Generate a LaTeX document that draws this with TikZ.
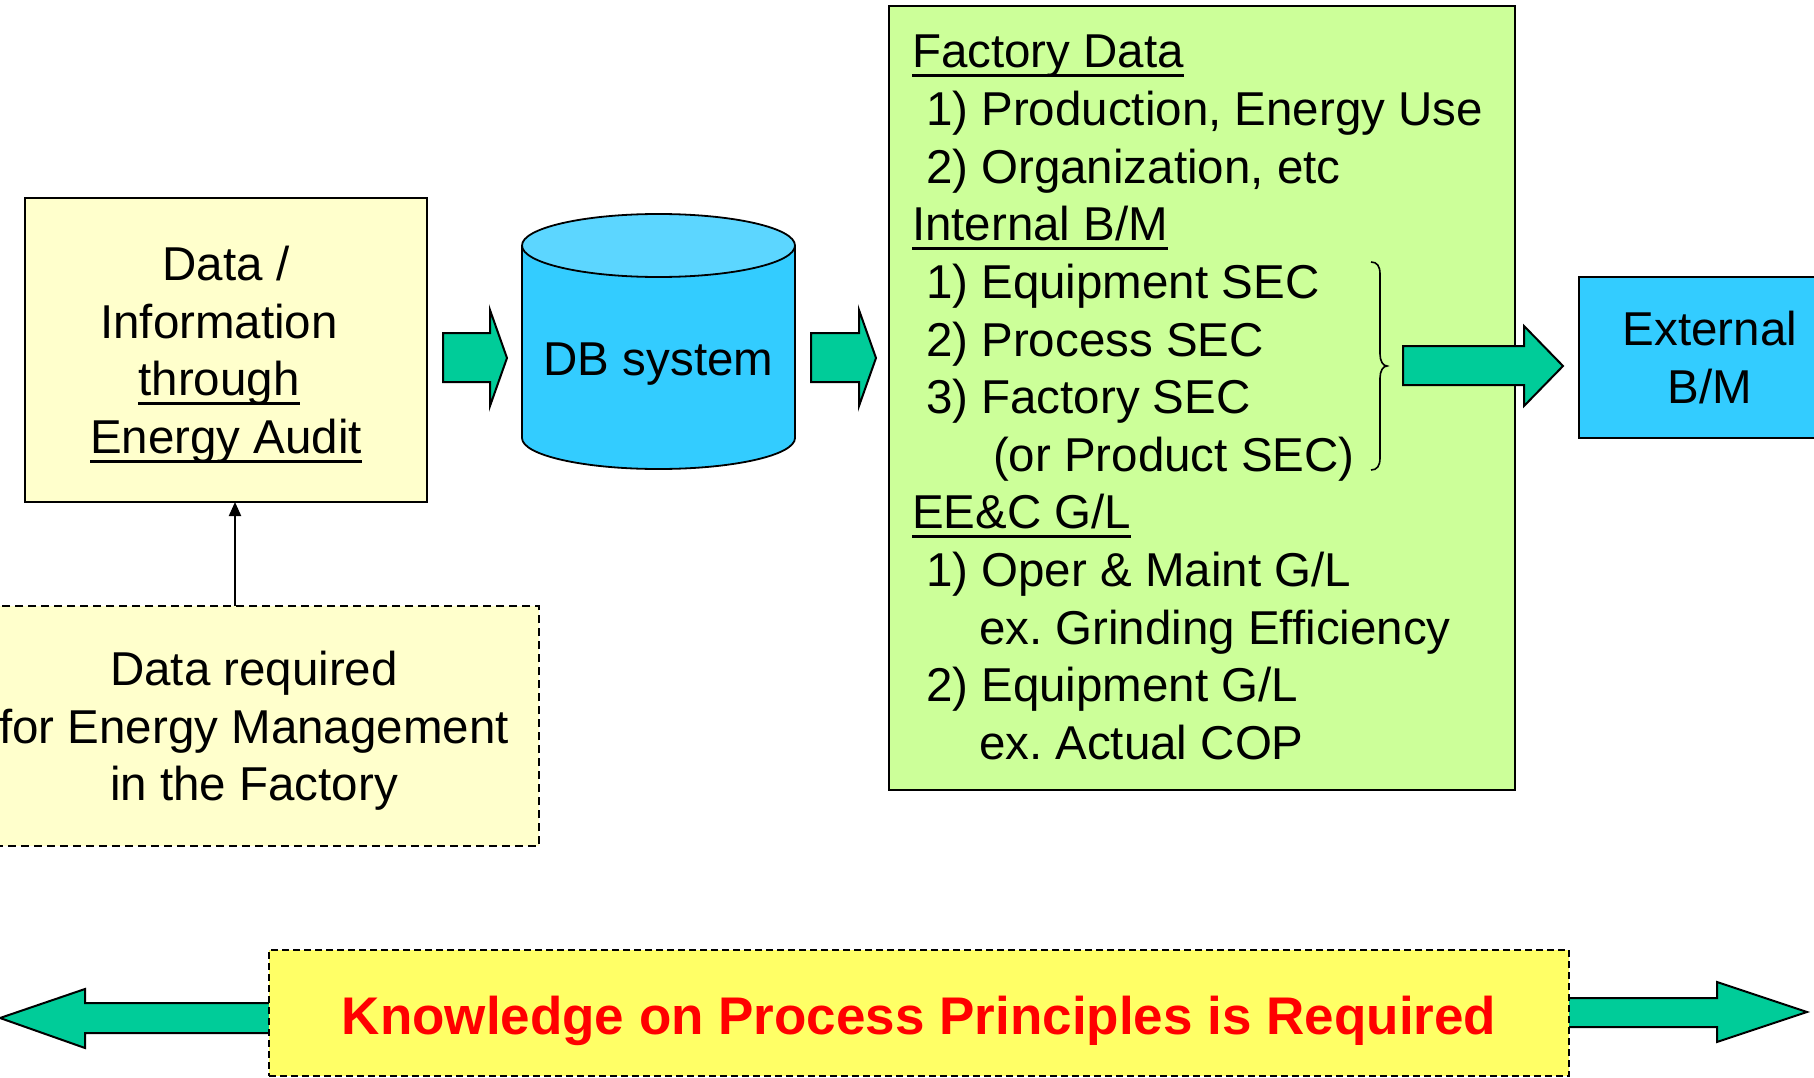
\documentclass[tikz,border=0pt]{standalone}
\usepackage{fontspec}
\setmainfont{Liberation Sans}
\usetikzlibrary{arrows.meta}
\definecolor{boxyellow}{HTML}{FFFFCC}
\definecolor{boxgreen}{HTML}{CCFF99}
\definecolor{cyanbody}{HTML}{33CCFF}
\definecolor{cyantop}{HTML}{5CD6FF}
\definecolor{arrowgreen}{HTML}{00CC99}
\definecolor{kyellow}{HTML}{FFFF66}
\definecolor{kred}{HTML}{FF0000}
\newcommand{\myul}[1]{\setbox0=\hbox{#1}\rlap{\rule[-9pt]{\wd0}{2.6pt}}\box0}
\newcommand{\mystrut}{\rule[-10pt]{0pt}{54pt}}
\newcommand{\padr}{\rule{14pt}{0pt}}
\frenchspacing
\begin{document}
\begin{tikzpicture}[x=1pt,y=-1pt,
  every node/.style={inner sep=0pt, outer sep=0pt},
  plainbox/.style={draw=black, line width=2pt},
  dashbox/.style={draw=black, line width=2pt, dash pattern=on 8pt off 5pt},
  txt/.style={font=\fontsize{47.5pt}{57.8pt}\selectfont, align=center},
  ltxt/.style={font=\fontsize{47.5pt}{57.8pt}\selectfont, anchor=base west},
  blockarrow/.style={draw=black, line width=2pt, fill=arrowgreen, line join=miter},
  cylline/.style={line width=1.8pt},
]
\useasboundingbox (0,0) rectangle (1814,1078);
\fill[white] (0,0) rectangle (1814,1078);
\clip (0,0) rectangle (1814,1078);

% left boxes
\node[plainbox, fill=boxyellow, minimum width=402pt, minimum height=304pt, txt] (audit) at (226,350)
  {\mystrut Data /\\\mystrut Information\padr\\\mystrut\myul{through}\padr\\\mystrut\myul{Energy Audit}};
\node[dashbox, fill=boxyellow, minimum width=570pt, minimum height=240pt, txt] (req) at (254,726)
  {\mystrut Data required\\\mystrut for Energy Management\\\mystrut in the Factory};
\coordinate (ax) at (235,0);
\draw[line width=2pt, -{Triangle[length=14pt,width=12pt]}] (ax |- req.north) -- (ax |- audit.south);

% DB cylinder
\node[minimum width=273pt, minimum height=256pt] (db) at (658.5,342) {};
\fill[cyanbody] (522,245) rectangle (795,438);
\fill[cyanbody] (658.5,438) ellipse [x radius=136.5, y radius=31];
\begin{scope}
  \clip (510,438) rectangle (810,485);
  \draw[cylline] (658.5,438) ellipse [x radius=136.5, y radius=31];
\end{scope}
\draw[cylline] (522,245) -- (522,438) (795,245) -- (795,438);
\filldraw[cylline, fill=cyantop] (658.5,245.5) ellipse [x radius=136.5, y radius=31.5];
\node[txt, anchor=base] (dblabel) at (658.5,375) {DB system};

% block arrows
\draw[blockarrow] (443,333) -- (490,333) -- (490,310) -- (507,358) -- (490,406) -- (490,382) -- (443,382) -- cycle;
\draw[blockarrow] (811,333) -- (859,333) -- (859,310) -- (876,358) -- (859,406) -- (859,382) -- (811,382) -- cycle;

% factory data box
\node[plainbox, fill=boxgreen, minimum width=626pt, minimum height=784pt] (fd) at (1202,398) {};
\node[ltxt] (l0) at (912,68) {\myul{Factory Data}};
\node[ltxt] (l1) at (926,125.6) {1) Production, Energy Use};
\node[ltxt] (l2) at (926,183.2) {2) Organization, etc};
\node[ltxt] (l3) at (912,240.8) {\myul{Internal B/M}};
\node[ltxt] (l4) at (926,298.4) {1) Equipment SEC};
\node[ltxt] (l5) at (926,356) {2) Process SEC};
\node[ltxt] (l6) at (926,413.6) {3) Factory SEC};
\node[ltxt] (l7) at (993,471.2) {(or Product SEC)};
\node[ltxt] (l8) at (912,528.8) {\myul{EE\&C G/L}};
\node[ltxt] (l9) at (926,586.4) {1) Oper \& Maint G/L};
\node[ltxt] (l10) at (979,644) {ex. Grinding Efficiency};
\node[ltxt] (l11) at (926,701.6) {2) Equipment G/L};
\node[ltxt] (l12) at (979,759.2) {ex. Actual COP};

% brace
\draw[line width=1.6pt] (1371,262) .. controls (1377,262) and (1380,266) .. (1380,274) -- (1380,354)
  .. controls (1380,361) and (1383,366) .. (1387,366)
  .. controls (1383,366) and (1380,371) .. (1380,378) -- (1380,458)
  .. controls (1380,466) and (1377,470) .. (1371,470);

% arrow to external
\draw[blockarrow] (1403,346) -- (1524,346) -- (1524,326) -- (1563,366) -- (1524,406) -- (1524,385) -- (1403,385) -- cycle;
\node[plainbox, fill=cyanbody, minimum width=262pt, minimum height=161pt, txt] (ext) at (1710,357.5)
  {\mystrut External\\\mystrut B/M};

% bottom
\draw[blockarrow] (275,1003) -- (85,1003) -- (85,989) -- (0,1018) -- (85,1048) -- (85,1033) -- (275,1033) -- cycle;
\draw[blockarrow] (1563,998) -- (1717,998) -- (1717,982) -- (1807,1012) -- (1717,1042) -- (1717,1027) -- (1563,1027) -- cycle;
\node[draw=black, line width=2pt, dash pattern=on 7pt off 4pt, fill=kyellow, minimum width=1300pt, minimum height=126pt] (kbox) at (919,1013) {};
\node[anchor=base, text=kred, font=\fontsize{53pt}{60pt}\selectfont\bfseries] (ktext) at (919,1034)
  {Knowledge on Process Principles is Required};
\end{tikzpicture}
\end{document}
